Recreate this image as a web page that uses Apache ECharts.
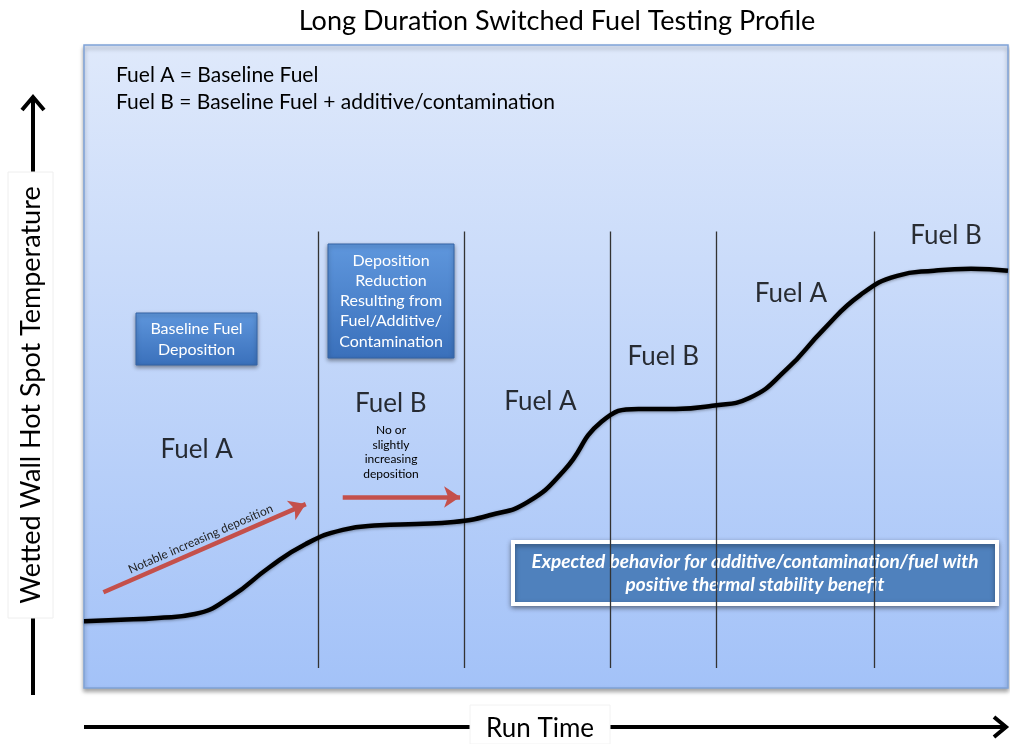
<!DOCTYPE html>
<html>
<head>
<meta charset="utf-8">
<title>Long Duration Switched Fuel Testing Profile</title>
<script src="https://cdn.jsdelivr.net/npm/echarts@6/dist/echarts.min.js"></script>
<style>
  html, body { margin: 0; padding: 0; background: #fff; }
  #chart { width: 1010px; height: 744px; }
</style>
</head>
<body>
<div id="chart"></div>
<script>
// run time (0-100) and wall temperature (0-100)
const runTime = [0, 4, 8, 12, 16, 20, 24, 28, 32, 36, 40, 44, 48, 52, 56, 60, 64, 68, 72, 76, 80, 84, 88, 92, 96, 100];
const wallTemp = [10.4, 10.6, 10.9, 11.5, 14.3, 18.7, 22.4, 24.6, 25.3, 25.5, 25.8, 26.9, 28.9, 33.9, 41.4, 43.4, 43.4, 43.9, 45.1, 49.5, 55.7, 61.1, 64.1, 64.9, 65.2, 64.9];

// fuel switch times
const switchTimes = [25.3, 41.1, 56.9, 68.4, 85.5];
const phaseNames = ['Fuel A', 'Fuel B', 'Fuel A', 'Fuel B', 'Fuel A', 'Fuel B'];
// where each phase name sits (time, temp)
const phaseSpots = [[12.2, 37.0], [33.2, 44.2], [49.4, 44.6], [62.7, 51.5], [76.5, 61.3], [93.3, 70.3]];

const FONT = 'Lato';
const chart = echarts.init(document.getElementById('chart'));

const switchLines = switchTimes.map(function (t) {
  return [{ coord: [t, 3.1] }, { coord: [t, 71] }];
});

// helper for the blue note boxes
function noteBox(x, y, w, h, text, lineH) {
  return {
    type: 'group',
    children: [
      {
        type: 'rect',
        shape: { x: x, y: y, width: w, height: h },
        style: {
          fill: new echarts.graphic.LinearGradient(0, 0, 0, 1, [
            { offset: 0, color: '#5f97dd' },
            { offset: 1, color: '#3a70bb' }
          ]),
          stroke: '#3464a6',
          lineWidth: 1,
          shadowBlur: 4,
          shadowOffsetY: 2,
          shadowColor: 'rgba(0,0,0,0.4)'
        }
      },
      {
        type: 'text',
        x: x + w / 2,
        y: y + h / 2,
        style: {
          text: text,
          fill: '#fff',
          font: '16px ' + FONT,
          lineHeight: lineH,
          align: 'center',
          verticalAlign: 'middle'
        }
      }
    ]
  };
}

chart.setOption({
  animation: false,
  title: {
    text: 'Long Duration Switched Fuel Testing Profile',
    left: 552,
    top: 3,
    textAlign: 'center',
    textStyle: { fontFamily: FONT, fontWeight: 'normal', fontSize: 27, color: '#000' }
  },
  grid: {
    left: 84,
    top: 45,
    width: 924,
    height: 643,
    show: true,
    borderColor: '#7fa3d8',
    borderWidth: 1.5,
    shadowColor: 'rgba(0,0,0,0.35)',
    shadowBlur: 4,
    shadowOffsetY: 3,
    backgroundColor: new echarts.graphic.LinearGradient(0, 0, 0, 1, [
      { offset: 0, color: '#dfe9fb' },
      { offset: 1, color: '#a3c2f8' }
    ])
  },
  xAxis: { type: 'value', min: 0, max: 100, show: false },
  yAxis: { type: 'value', min: 0, max: 100, show: false },
  series: [
    {
      name: 'switches',
      type: 'line',
      data: [],
      markLine: {
        silent: true,
        symbol: ['none', 'none'],
        label: { show: false },
        lineStyle: { color: '#333', width: 1.3, type: 'solid' },
        data: switchLines
      }
    },
    {
      name: 'wall temperature',
      type: 'line',
      data: runTime.map(function (t, i) { return [t, wallTemp[i]]; }),
      smooth: 0.5,
      showSymbol: false,
      lineStyle: {
        color: '#000',
        width: 4.5,
        shadowColor: 'rgba(0,0,0,0.35)',
        shadowBlur: 3,
        shadowOffsetY: 1
      },
      z: 5
    },
    {
      name: 'trend arrows',
      type: 'line',
      data: [],
      markLine: {
        silent: true,
        symbol: ['none', 'arrow'],
        symbolSize: [16, 16],
        lineStyle: { color: '#c4504b', width: 4.5, type: 'solid' },
        data: [
          [
            { coord: [2.1, 14.9] },
            {
              coord: [24.0, 28.6],
              label: {
                show: true,
                position: 'insideMiddleTop',
                formatter: 'Notable increasing deposition',
                fontFamily: FONT,
                fontSize: 12,
                color: '#222',
                distance: 4
              }
            }
          ],
          [{ coord: [28.0, 29.7] }, { coord: [40.7, 29.7], label: { show: false } }]
        ]
      }
    },
    {
      name: 'phases',
      type: 'scatter',
      symbolSize: 0,
      data: phaseSpots.map(function (p, i) { return { value: p, name: phaseNames[i] }; }),
      label: {
        show: true,
        position: 'inside',
        formatter: '{b}',
        fontFamily: FONT,
        fontWeight: 'normal',
        fontSize: 26,
        color: '#000'
      }
    }
  ],
  graphic: [
    // fuel key
    {
      type: 'text', left: 116, top: 65,
      style: { text: 'Fuel A = Baseline Fuel', font: '21px ' + FONT, fill: '#000' }
    },
    {
      type: 'text', left: 116, top: 92,
      style: { text: 'Fuel B = Baseline Fuel + additive/contamination', font: '21px ' + FONT, fill: '#000' }
    },
    noteBox(136, 313, 121, 52, 'Baseline Fuel\nDeposition', 21),
    noteBox(328, 244, 126, 114, 'Deposition\nReduction\nResulting from\nFuel/Additive/\nContamination', 20.3),
    {
      type: 'text', x: 391, y: 452,
      style: {
        text: 'No or\nslightly\nincreasing\ndeposition',
        font: '12px ' + FONT, fill: '#000', lineHeight: 14.7,
        align: 'center', verticalAlign: 'middle'
      }
    },
    // expected behaviour note
    {
      type: 'group',
      children: [
        {
          type: 'rect',
          shape: { x: 513, y: 542, width: 484, height: 62 },
          style: {
            fill: '#4f81bd', stroke: '#fff', lineWidth: 4,
            shadowBlur: 5, shadowOffsetY: 2, shadowColor: 'rgba(0,0,0,0.4)'
          }
        },
        {
          type: 'text', x: 755, y: 573,
          style: {
            text: 'Expected behavior for additive/contamination/fuel with\npositive thermal stability benefit',
            font: 'italic bold 19px ' + FONT, fill: '#fff', lineHeight: 23,
            align: 'center', verticalAlign: 'middle'
          }
        }
      ]
    },
    // y axis arrow
    {
      type: 'polyline',
      shape: { points: [[33, 695], [33, 97]] },
      style: { stroke: '#000', lineWidth: 4, fill: null }
    },
    {
      type: 'polyline',
      shape: { points: [[22, 110], [33, 97], [44, 110]] },
      style: { stroke: '#000', lineWidth: 4, fill: null }
    },
    {
      type: 'rect',
      shape: { x: 8, y: 172, width: 45, height: 446 },
      style: { fill: '#fff', stroke: '#eee', lineWidth: 1 }
    },
    {
      type: 'text', x: 31, y: 395, rotation: Math.PI / 2,
      style: {
        text: 'Wetted Wall Hot Spot Temperature',
        font: '27px ' + FONT, fill: '#000',
        align: 'center', verticalAlign: 'middle'
      }
    },
    // x axis arrow
    {
      type: 'polyline',
      shape: { points: [[84, 727], [1005, 727]] },
      style: { stroke: '#000', lineWidth: 4, fill: null }
    },
    {
      type: 'polyline',
      shape: { points: [[994, 717], [1006, 727], [994, 737]] },
      style: { stroke: '#000', lineWidth: 4, fill: null }
    },
    {
      type: 'rect',
      shape: { x: 470, y: 705, width: 140, height: 39 },
      style: { fill: '#fff', stroke: '#f2f2f2', lineWidth: 1 }
    },
    {
      type: 'text', x: 540, y: 729,
      style: {
        text: 'Run Time', font: '26px ' + FONT, fill: '#000',
        align: 'center', verticalAlign: 'middle'
      }
    }
  ]
});
</script>
</body>
</html>
